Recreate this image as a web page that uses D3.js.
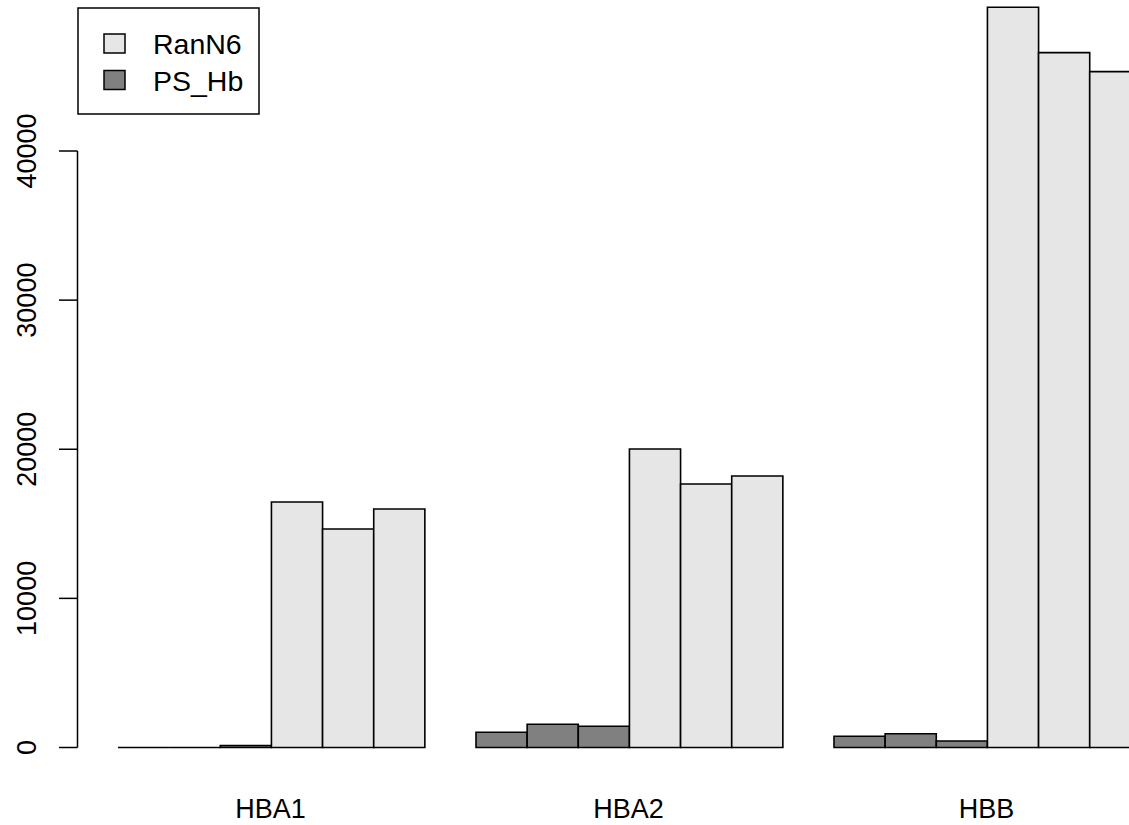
<!DOCTYPE html>
<html>
<head>
<meta charset="utf-8">
<script src="https://cdn.jsdelivr.net/npm/d3@7"></script>
<style>
  body { margin: 0; background: #fff; }
  text { font-family: "Liberation Sans", Arial, Helvetica, sans-serif; fill: #000; }
</style>
</head>
<body>
<div id="chart"></div>
<script>
// Plot constants
const WIDTH = 1129;
const HEIGHT = 825;

// Data
const genes = ["HBA1", "HBA2", "HBB"];
const psHb = [[0, 0, 134], [1019, 1556, 1422], [751, 925, 436]];
const ranN6 = [[16466, 14655, 15996], [20017, 17670, 18206], [49637, 46594, 45320]];
const yTicks = [0, 10000, 20000, 30000, 40000];
const legendLabels = ["RanN6", "PS_Hb"];
const colors = { RanN6: "#e6e6e6", PS_Hb: "#808080" };

const svg = d3.select("#chart")
  .append("svg")
  .attr("width", WIDTH)
  .attr("height", HEIGHT);

// bar slots in R barplot units: each group has 1 unit gap then 6 bars
const x = d3.scaleLinear().domain([1, 15]).range([118, 834]);
const y = d3.scaleLinear().domain([0, 40000]).range([747.5, 151]);

const bars = [];
genes.forEach((g, gi) => {
  const start = 1 + gi * 7;
  psHb[gi].forEach((v, i) => bars.push({ u: start + i, v, s: "PS_Hb" }));
  ranN6[gi].forEach((v, i) => bars.push({ u: start + 3 + i, v, s: "RanN6" }));
});

// paths so zero-height bars still show their outline
svg.append("g")
  .selectAll("path")
  .data(bars)
  .enter()
  .append("path")
  .attr("d", d => {
    const x0 = x(d.u), x1 = x(d.u + 1), y0 = y(0), y1 = y(d.v);
    return `M${x0},${y0}V${y1}H${x1}V${y0}Z`;
  })
  .attr("fill", d => colors[d.s])
  .attr("stroke", "#000")
  .attr("stroke-width", 1.6)
  .attr("stroke-linejoin", "miter");

// y axis
const yAxis = svg.append("g").attr("transform", "translate(77.5,0)");
yAxis.append("line")
  .attr("y1", y(0)).attr("y2", y(40000))
  .attr("stroke", "#000").attr("stroke-width", 1.5);
yAxis.selectAll(".tick")
  .data(yTicks)
  .enter()
  .append("line")
  .attr("x1", -18.5).attr("x2", 0)
  .attr("y1", d => y(d)).attr("y2", d => y(d))
  .attr("stroke", "#000").attr("stroke-width", 1.5);
svg.append("g")
  .selectAll("text")
  .data(yTicks)
  .enter()
  .append("text")
  .attr("transform", d => `translate(36,${y(d)}) rotate(-90)`)
  .attr("text-anchor", "middle")
  .attr("font-size", "27px")
  .text(d => d);

// group labels
svg.append("g")
  .selectAll("text")
  .data(genes)
  .enter()
  .append("text")
  .attr("x", (d, i) => x(1 + i * 7 + 3) - 1)
  .attr("y", 818)
  .attr("text-anchor", "middle")
  .attr("font-size", "27px")
  .text(d => d);

// legend
const legend = svg.append("g");
legend.append("rect")
  .attr("x", 78).attr("y", 8)
  .attr("width", 181).attr("height", 106)
  .attr("fill", "none").attr("stroke", "#000").attr("stroke-width", 1.5);
legendLabels.forEach((l, i) => {
  const cy = 43.5 + i * 36.5;
  legend.append("rect")
    .attr("x", 104).attr("y", cy - 9.5)
    .attr("width", 21).attr("height", 19)
    .attr("fill", colors[l]).attr("stroke", "#000").attr("stroke-width", 1.5);
  legend.append("text")
    .attr("x", 153).attr("y", cy + 10.5)
    .attr("font-size", "28.5px")
    .text(l);
});
</script>
</body>
</html>
